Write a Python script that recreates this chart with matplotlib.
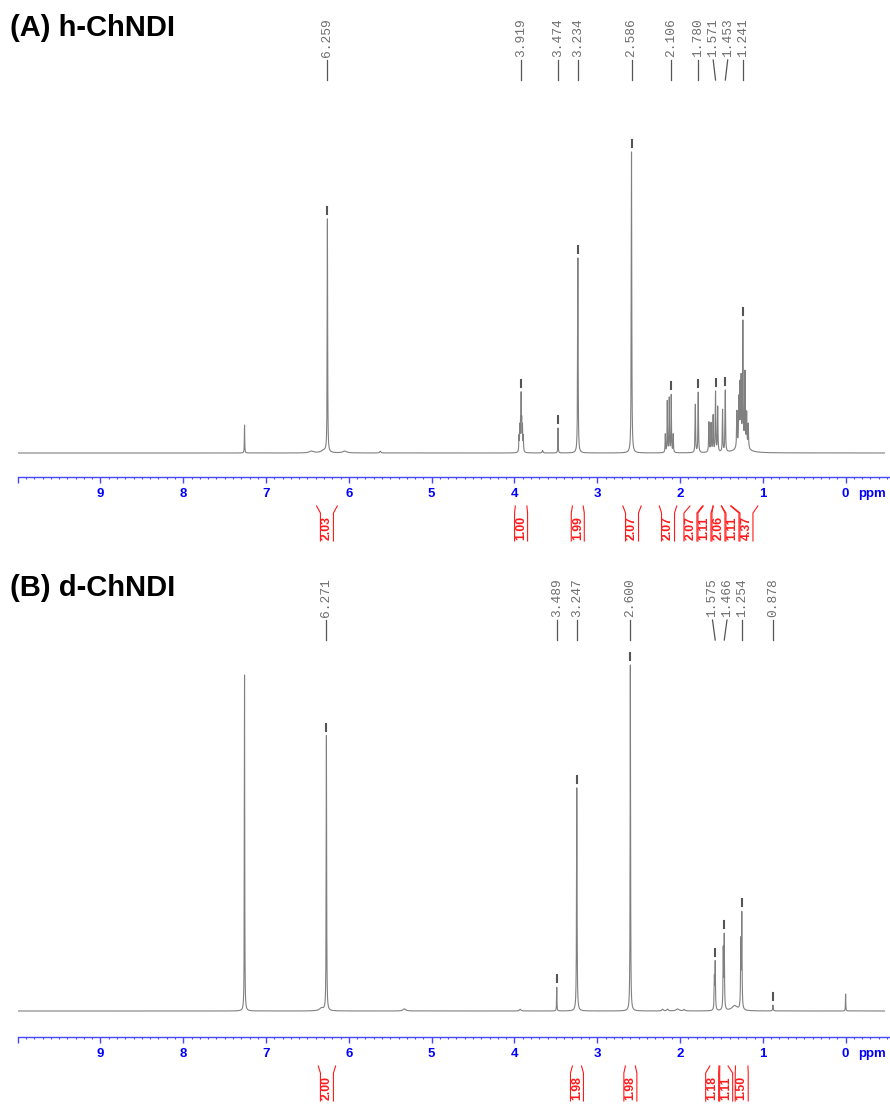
import numpy as np
import matplotlib
matplotlib.use("Agg")
import matplotlib.pyplot as plt
from matplotlib.ticker import FixedLocator, MultipleLocator

W, H, DPI = 890, 1104, 100

PPM_LEFT, PPM_RIGHT = 10.0, -0.536
X0 = 17.7                      # pixel column of the 10 ppm end of the scale
PX_PER_PPM = (W - X0) / (PPM_LEFT - PPM_RIGHT)

LINE = "#808080"
MARK = "#555555"
LABEL = "#6e6e6e"
AXIS = "#4848ff"
TICKS = "#0000ff"
RED = "#ff1a1a"

# (A) h-ChNDI -- line list: shift (ppm), relative height, half width (ppm)
A_PPM = [7.260, 6.450, 6.300, 6.259, 6.050, 5.620,
         3.945, 3.935, 3.926, 3.919, 3.912, 3.903, 3.893, 3.660, 3.474, 3.234,
         2.586, 2.178, 2.154, 2.130, 2.106, 2.082,
         1.815, 1.780, 1.651, 1.625, 1.600, 1.571, 1.545, 1.486, 1.453,
         1.313, 1.290, 1.277, 1.262, 1.241, 1.215, 1.195, 1.176, 1.250]
A_HEIGHT = [9.3, 0.6, 0.8, 77.7, 0.6, 0.6,
            5, 8, 9, 17, 9, 8, 5, 0.8, 8.3, 64.8,
            100, 6, 17, 18, 19, 6,
            16, 20, 10, 9.5, 12, 20, 15, 14, 20.5,
            12, 15, 19, 21, 40, 24, 11, 8, 3]
A_WIDTH = [0.0025, 0.03, 0.04, 0.003, 0.03, 0.008,
           0.003, 0.003, 0.003, 0.0025, 0.003, 0.003, 0.003, 0.006, 0.0025, 0.0035,
           0.0035, 0.003, 0.003, 0.003, 0.003, 0.003,
           0.0035, 0.0035, 0.004, 0.004, 0.0035, 0.0035, 0.0035, 0.0035, 0.0035,
           0.004, 0.0035, 0.0035, 0.0035, 0.0035, 0.0035, 0.0035, 0.004, 0.06]
A_PICKS = [6.259, 3.919, 3.474, 3.234, 2.586, 2.106, 1.780, 1.571, 1.453, 1.241]
A_INT = [2.03, 1.00, 1.99, 2.07, 2.07, 2.07, 1.11, 2.06, 1.11, 4.37]
A_INT_FROM = [6.39, 3.99, 3.30, 2.69, 2.25, 1.88, 1.72, 1.60, 1.50, 1.38]
A_INT_TO = [6.14, 3.85, 3.17, 2.47, 2.04, 1.73, 1.60, 1.50, 1.39, 1.06]

# (B) d-ChNDI
B_PPM = [7.260, 6.330, 6.271, 5.330, 3.930, 3.489, 3.247, 2.600,
         2.210, 2.150, 2.030, 1.950, 1.585, 1.575, 1.478, 1.466,
         1.340, 1.266, 1.254, 0.878, 0.000]
B_HEIGHT = [97.1, 0.8, 79.8, 0.6, 0.5, 6.9, 64.7, 100,
            0.5, 0.5, 0.6, 0.4, 9, 13.5, 17, 21,
            1.5, 19, 27, 1.7, 4.9]
B_WIDTH = [0.0025, 0.03, 0.003, 0.02, 0.01, 0.0025, 0.0035, 0.003,
           0.01, 0.01, 0.02, 0.01, 0.0035, 0.0035, 0.0035, 0.0035,
           0.04, 0.0035, 0.0035, 0.004, 0.0025]
B_PICKS = [6.271, 3.489, 3.247, 2.600, 1.575, 1.466, 1.254, 0.878]
B_INT = [2.00, 1.98, 1.98, 1.18, 1.11, 1.50]
B_INT_FROM = [6.37, 3.30, 2.66, 1.64, 1.52, 1.33]
B_INT_TO = [6.16, 3.19, 2.54, 1.53, 1.42, 1.18]


def spectrum(x, ppm, height, width):
    y = np.zeros_like(x)
    for p, h, w in zip(ppm, height, width):
        y += h * w ** 2 / ((x - p) ** 2 + w ** 2)
    return y


def spread(ppm, gap_px):
    """Label positions (ppm) pushed apart to at least gap_px, groups kept centred."""
    gap = gap_px / PX_PER_PPM
    keys = sorted(-v for v in ppm)
    groups = []
    for p in keys:
        groups.append([p])
        while len(groups) > 1:
            a, b = groups[-2], groups[-1]
            a_end = np.mean(a) + (len(a) - 1) * gap / 2
            b_start = np.mean(b) - (len(b) - 1) * gap / 2
            if b_start - a_end >= gap:
                break
            groups[-2:] = [a + b]
    out = []
    for g in groups:
        c = np.mean(g)
        out += [c + (i - (len(g) - 1) / 2) * gap for i in range(len(g))]
    return {-p: -o for p, o in zip(keys, out)}


def draw_panel(fig, off, base_row, full_row, title, ppm, height, width,
               picks, ints, int_from, int_to):
    top, bot = off, min(off + 552, H)
    scale = (base_row - full_row) / 100.0      # px per intensity unit

    def y_of(r):
        return (base_row - r) / scale

    ax = fig.add_axes([X0 / W, 1 - bot / H, (W - X0) / W, (bot - top) / H])
    ax.set_xlim(PPM_LEFT, PPM_RIGHT)
    ax.set_ylim(y_of(bot - off), y_of(0))
    for s in ("left", "right", "top"):
        ax.spines[s].set_visible(False)
    ax.spines["bottom"].set_position(("data", y_of(477)))
    ax.spines["bottom"].set_color(AXIS)
    ax.spines["bottom"].set_linewidth(1.0)
    ax.set_yticks([])
    ax.xaxis.set_major_locator(FixedLocator(list(range(0, 11))))
    ax.set_xticklabels([str(i) for i in range(0, 10)] + [""])
    ax.xaxis.set_minor_locator(MultipleLocator(0.1))
    ax.tick_params(axis="x", which="major", direction="out", length=4.2,
                   width=1.0, color=AXIS, labelcolor=TICKS, labelsize=9.5, pad=4)
    ax.tick_params(axis="x", which="minor", direction="out", length=1.6,
                   width=0.8, color=AXIS)
    for lab in ax.get_xticklabels():
        lab.set_fontweight("bold")
        lab.set_family("Liberation Sans")
    ax.text(-0.147, y_of(494.5), "ppm", color=TICKS, fontsize=9.5,
            fontweight="bold", family="Liberation Sans", ha="left", va="center")

    x = np.arange(-0.47, 10.0, 0.0004)
    y = spectrum(x, ppm, height, width)
    ax.plot(x, y, color=LINE, lw=0.8)

    # peak picks: tick above each maximum, leader line and shift label
    lab_pos = spread(picks, 14.5)
    for p in picks:
        sel = np.abs(x - p) < 0.006
        ymax = y[sel].max()
        ax.plot([p, p], [ymax + 5 / scale, ymax + 12 / scale], color=MARK, lw=1.5)
        lp = lab_pos[p]
        ax.plot([lp, p], [y_of(60), y_of(80)], color=MARK, lw=0.9)
        ax.text(lp, y_of(57), f"{p:.3f}", rotation=90, rotation_mode="anchor",
                ha="left", va="center", color=LABEL, fontsize=9.3,
                family="Liberation Mono")

    # integral brackets with values
    mids = [(a + b) / 2 for a, b in zip(int_from, int_to)]
    centres = spread(mids, 14)
    half = 6.5 / PX_PER_PPM
    for v, a, b, m in zip(ints, int_from, int_to, mids):
        c = centres[m]
        ax.plot([a, c + half, c + half], [y_of(506), y_of(513), y_of(541)],
                color=RED, lw=0.8)
        ax.plot([b, c - half, c - half], [y_of(506), y_of(513), y_of(541)],
                color=RED, lw=0.8)
        ax.text(c, y_of(540), f"{v:.2f}", rotation=90, rotation_mode="anchor",
                ha="left", va="center", color=RED, fontsize=8.8,
                fontweight="bold", family="Liberation Sans")

    fig.text(10 / W, 1 - (off + 28) / H, title, fontsize=21, fontweight="bold",
             family="Liberation Sans", ha="left", va="center")


fig = plt.figure(figsize=(W / DPI, H / DPI), dpi=DPI)
fig.patch.set_facecolor("white")
draw_panel(fig, 0, 453, 152, "(A) h-ChNDI", A_PPM, A_HEIGHT, A_WIDTH,
           A_PICKS, A_INT, A_INT_FROM, A_INT_TO)
draw_panel(fig, 560, 451, 105, "(B) d-ChNDI", B_PPM, B_HEIGHT, B_WIDTH,
           B_PICKS, B_INT, B_INT_FROM, B_INT_TO)
fig.savefig("out.png", dpi=DPI, facecolor="white")
